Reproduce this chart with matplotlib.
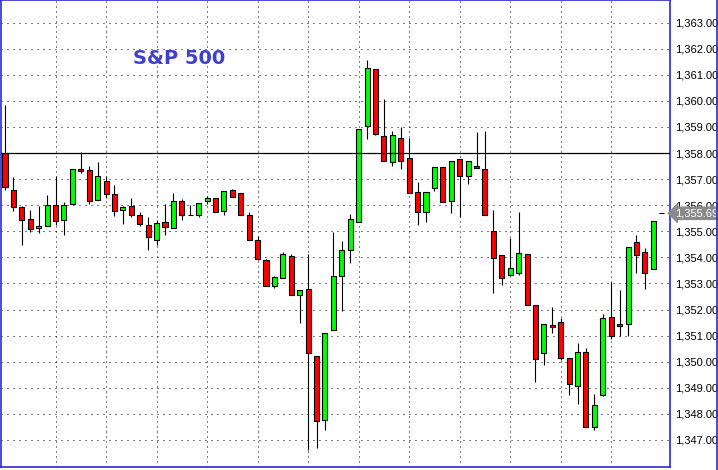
import matplotlib
matplotlib.use("Agg")
import matplotlib.pyplot as plt
from matplotlib.lines import Line2D
from matplotlib.ticker import FuncFormatter
import matplotlib.transforms as mtransforms

# OHLC of each bar
opens = [1358.02, 1356.59, 1355.93, 1355.47, 1355.11, 1355.20, 1356.00, 1355.43, 1356.04, 1357.38,
         1357.34, 1356.19, 1356.92, 1356.42, 1355.81, 1355.96, 1355.62, 1355.24, 1354.67, 1355.35,
         1355.14, 1356.17, 1355.64, 1355.64, 1356.17, 1356.29, 1355.79, 1356.60, 1356.48, 1355.64,
         1354.68, 1353.91, 1352.92, 1353.19, 1354.07, 1352.57, 1352.80, 1350.20, 1347.78, 1351.23,
         1353.28, 1354.28, 1355.35, 1359.04, 1361.22, 1358.65, 1357.65, 1358.58, 1357.81, 1356.50,
         1355.74, 1356.66, 1357.46, 1356.16, 1357.77, 1357.12, 1357.50, 1357.39, 1355.00, 1354.09,
         1353.32, 1353.40, 1354.12, 1352.17, 1350.34, 1351.41, 1351.52, 1350.15, 1349.07, 1350.38,
         1347.51, 1348.73, 1351.71, 1351.45, 1351.45, 1354.58, 1354.20, 1353.55, 1355.69]
highs = [1359.85, 1357.08, 1355.98, 1355.82, 1355.98, 1356.40, 1357.11, 1356.13, 1357.38, 1358.05,
         1357.50, 1357.66, 1357.13, 1356.77, 1355.98, 1356.28, 1355.75, 1355.54, 1355.43, 1356.04,
         1356.47, 1356.22, 1356.00, 1356.10, 1356.37, 1356.29, 1356.56, 1356.63, 1356.48, 1355.75,
         1354.83, 1353.95, 1353.30, 1354.22, 1354.14, 1352.73, 1354.14, 1350.20, 1351.08, 1354.99,
         1354.64, 1355.67, 1358.92, 1361.57, 1361.22, 1360.07, 1358.84, 1359.00, 1358.58, 1356.89,
         1356.50, 1357.46, 1357.46, 1357.69, 1357.77, 1357.69, 1358.82, 1358.84, 1355.82, 1354.09,
         1354.74, 1355.73, 1354.12, 1352.17, 1351.45, 1352.10, 1351.68, 1350.15, 1350.72, 1350.53,
         1348.77, 1351.83, 1353.05, 1352.73, 1354.39, 1354.85, 1354.35, 1355.39, 1355.72]
lows = [1356.58, 1355.76, 1354.48, 1354.99, 1354.92, 1355.20, 1355.25, 1354.84, 1356.04, 1357.25,
        1356.06, 1356.19, 1356.26, 1355.60, 1355.27, 1355.53, 1355.21, 1354.28, 1354.47, 1354.85,
        1355.14, 1355.45, 1355.64, 1355.55, 1356.06, 1355.75, 1355.64, 1356.33, 1355.64, 1354.68,
        1353.91, 1352.92, 1352.83, 1353.19, 1352.57, 1351.49, 1346.60, 1346.67, 1347.36, 1351.23,
        1351.96, 1353.78, 1355.35, 1358.54, 1358.69, 1357.69, 1357.50, 1357.39, 1356.47, 1355.24,
        1355.35, 1356.54, 1356.12, 1355.69, 1355.54, 1356.81, 1357.42, 1355.62, 1352.62, 1352.93,
        1353.32, 1353.32, 1352.17, 1349.21, 1349.88, 1351.10, 1350.07, 1348.72, 1348.37, 1347.51,
        1347.39, 1348.68, 1350.87, 1350.99, 1350.99, 1353.40, 1352.79, 1353.55, 1355.69]
closes = [1356.68, 1355.93, 1355.43, 1355.10, 1355.21, 1356.00, 1355.39, 1356.00, 1357.38, 1357.33,
          1356.15, 1357.11, 1356.42, 1355.77, 1355.93, 1355.62, 1355.27, 1354.78, 1355.31, 1355.16,
          1356.17, 1355.64, 1355.64, 1356.10, 1356.29, 1355.75, 1356.56, 1356.33, 1355.64, 1354.68,
          1353.95, 1352.92, 1353.26, 1354.14, 1352.57, 1352.73, 1350.35, 1347.74, 1351.08, 1353.30,
          1354.28, 1355.47, 1358.92, 1361.26, 1358.73, 1357.69, 1358.69, 1357.69, 1356.47, 1355.74,
          1356.50, 1357.46, 1356.12, 1357.69, 1357.12, 1357.69, 1357.42, 1355.62, 1353.97, 1353.21,
          1353.59, 1354.16, 1352.17, 1350.11, 1351.45, 1351.33, 1350.15, 1349.15, 1350.38, 1347.51,
          1348.35, 1351.68, 1350.99, 1351.37, 1354.39, 1354.09, 1353.40, 1355.39, 1355.69]

level_line = 1358.0
last_price = 1355.69
title = "S&P 500"

x = list(range(len(opens)))
colors = []
for o, c in zip(opens, closes):
    if c > o:
        colors.append('#00ff00')
    elif c < o:
        colors.append('#ff0000')
    else:
        colors.append('black')

fig = plt.figure(figsize=(7.18, 4.70), dpi=100)
ax = fig.add_axes([1 / 718, 3 / 470, 669 / 718, 467 / 470])

# wicks then bodies
ax.vlines(x, lows, highs, color='black', linewidth=0.8, zorder=2)
ax.bar(x, [c - o for o, c in zip(opens, closes)], bottom=opens, width=0.6,
       color=colors, edgecolor='black', linewidth=0.8, zorder=3)

ax.axhline(level_line, color='black', linewidth=0.9, zorder=4)

ax.set_xlim(-0.475, 78.98)
ax.set_ylim(1345.96, 1363.87)

ax.set_axisbelow(True)
ax.set_yticks(range(1347, 1364))
ax.set_xticks(range(6, 78, 6))
ax.set_xticklabels([])
ax.yaxis.tick_right()
ax.yaxis.set_major_formatter(FuncFormatter(lambda v, p: f'{v:,.2f}'))
ax.tick_params(axis='both', length=0)
ax.tick_params(axis='y', pad=4, labelsize=8)
for lbl in ax.get_yticklabels():
    lbl.set_fontfamily('Liberation Sans')
ax.yaxis.grid(True, color='black', linestyle=(0, (1, 5)), linewidth=0.72)
ax.xaxis.grid(True, color='black', linestyle=(0, (1, 4)), linewidth=0.72)

for s in ax.spines.values():
    s.set_color('#2a2ad0')
    s.set_linewidth(1.2)

fig.add_artist(Line2D([717.4 / 718] * 2, [0, 1], color='#2a2ad0', linewidth=1.2,
                      transform=fig.transFigure))

# current price tag
trans = mtransforms.blended_transform_factory(ax.transAxes, ax.transData)
ax.text(1.007, last_price, f'{last_price:,.2f}', transform=trans, ha='left', va='center',
        color='white', fontsize=8, family='Liberation Sans', clip_on=False, zorder=6,
        bbox=dict(boxstyle='larrow,pad=0.1', fc='#8a8a8a', ec='#8a8a8a'))

fig.text(133 / 718, 1 - 58 / 470, title, color='#4040d0', fontsize=14,
         fontweight='bold', va='center', ha='left')

fig.savefig('out.png', dpi=100)
